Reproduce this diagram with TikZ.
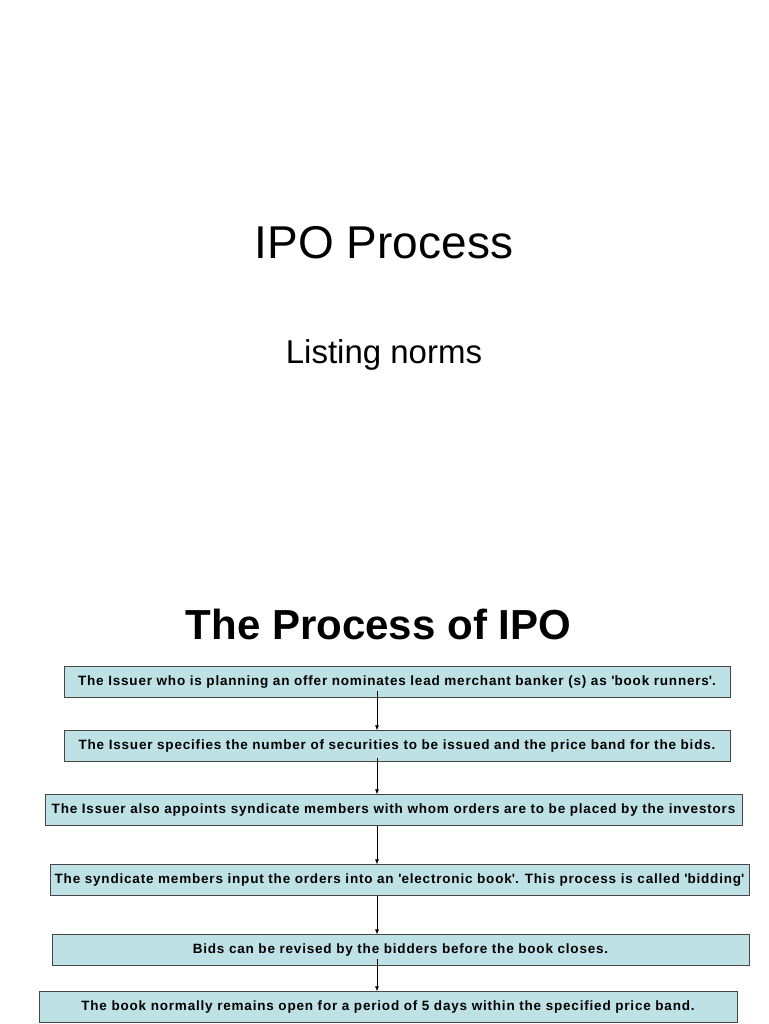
\documentclass[tikz,border=0pt]{standalone}
\usepackage{fontspec}
\setmainfont{Liberation Sans}
\newfontfamily\stepfont[LetterSpace=6]{Liberation Sans}
\usetikzlibrary{arrows.meta,positioning}
\definecolor{BoxCyan}{RGB}{190,225,230}
\definecolor{BoxEdge}{RGB}{70,70,70}
\newcommand{\q}{\textquotesingle}
\tikzset{
  stepbox/.style = {draw=BoxEdge, fill=BoxCyan, minimum height=31pt,
                    inner sep=0pt, font=\stepfont\fontsize{13.5}{15}\selectfont\bfseries},
  arr/.style     = {-{Latex[length=5pt,width=4pt]}, line width=0.6pt}
}

\begin{document}
\begin{tikzpicture}[x=1pt, y=1pt]
\useasboundingbox (0,0) rectangle (768,1024);

% slide titles
\node[font=\fontsize{46}{50}\selectfont] (title) at (384,781) {IPO Process};
\node[font=\fontsize{33}{36}\selectfont] (subtitle) at (384,669) {Listing norms};
\node[font=\fontsize{42}{46}\selectfont\bfseries] (head) at (378.5,400) {The Process of IPO};

% steps
\node[stepbox, minimum width=666pt] (s1) at (397,342) {The Issuer who is planning an offer nominates lead merchant banker (s) as \q book runners\q.};
\node[stepbox, minimum width=666pt] (s2) at (397,278) {The Issuer specifies the number of securities to be issued and the price band for the bids.};
\node[stepbox, minimum width=697pt] (s3) at (393.5,214) {The Issuer also appoints syndicate members with whom orders are to be placed by the investors};
\node[stepbox, minimum width=699pt] (s4) at (399.5,144) {The syndicate members input the orders into an \q electronic book\q. This process is called \q bidding\q};
\node[stepbox, minimum width=697pt] (s5) at (400.5,74) {Bids can be revised by the bidders before the book closes.};
\node[stepbox, minimum width=698pt] (s6) at (388,17) {The book normally remains open for a period of 5 days within the specified price band.};

% connectors
\coordinate (axis) at (377,0);
\draw[arr] ([yshift=7pt]s1.south -| axis) -- (s2.north -| axis);
\draw[arr] ([yshift=4pt]s2.south -| axis) -- (s3.north -| axis);
\draw[arr] (s3.south -| axis) -- (s4.north -| axis);
\draw[arr] (s4.south -| axis) -- (s5.north -| axis);
\draw[arr] ([yshift=7pt]s5.south -| axis) -- (s6.north -| axis);
\end{tikzpicture}
\end{document}
